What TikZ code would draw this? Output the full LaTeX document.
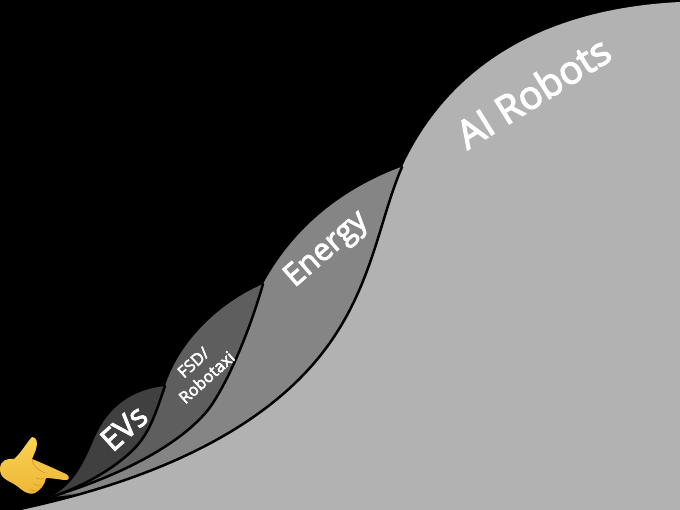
\documentclass[tikz,border=0pt]{standalone}
\usepackage{fontspec}
\setmainfont{Open Sans}
\newfontfamily\labfont[FakeBold=3]{Open Sans}
\definecolor{aigrey}{HTML}{B2B2B2}
\definecolor{engrey}{HTML}{858585}
\definecolor{fsdgrey}{HTML}{5E5E5E}
\definecolor{evgrey}{HTML}{404040}
\definecolor{handy}{HTML}{FAD352}
\definecolor{handm}{HTML}{EDB536}
\definecolor{handd}{HTML}{D99A2B}
\tikzset{
  lobeline/.style={draw=black,line width=2.5pt,line cap=round},
  lab/.style={text=white,inner sep=0pt,align=center},
  handline/.style={draw=handd,line width=.7pt,line cap=round}
}
\begin{document}
\begin{tikzpicture}[x=1pt,y=-1pt]
\useasboundingbox (0,0) rectangle (680,510);
\fill[black] (0,0) rectangle (680,510);
% EVs (back)
\fill[evgrey] (50,497) .. controls (75,485) and (85,460) .. (95,437)
  .. controls (108,408) and (130,390) .. (165,386)
  -- (200,420) -- (100,490) -- cycle;
% FSD
\fill[fsdgrey] (52,497) .. controls (85,485) and (112,470) .. (133,450)
  .. controls (150,433) and (156,412) .. (165,386)
  .. controls (178,345) and (215,305) .. (263,284)
  -- (300,350) -- (120,490) -- cycle;
% Energy
\fill[engrey] (60,494) .. controls (110,478) and (175,450) .. (208,410)
  .. controls (227,385) and (250,330) .. (263,284)
  .. controls (295,225) and (345,188) .. (401,167)
  -- (420,250) -- (200,490) -- cycle;
% AI Robots (front)
\fill[aigrey] (15,510) .. controls (110,490) and (240,450) .. (315,362)
  .. controls (372,295) and (378,222) .. (402,167)
  .. controls (440,85) and (520,10) .. (680,2) -- (680,510) -- cycle;
% Black lines
\draw[lobeline] (15,510) .. controls (110,490) and (240,450) .. (315,362)
  .. controls (372,295) and (378,222) .. (402,167);
\draw[lobeline] (60,494) .. controls (110,478) and (175,450) .. (208,410)
  .. controls (227,385) and (250,330) .. (263,284);
\draw[lobeline] (52,497) .. controls (85,485) and (112,470) .. (133,450)
  .. controls (150,433) and (156,412) .. (165,386);
% Hand
\shade[top color=handy,bottom color=handm] (32,437) .. controls (37,437) and (38,443) .. (36,449)
  .. controls (35,453) and (33,456) .. (32,459)
  .. controls (42,463) and (55,469) .. (66,474)
  .. controls (71,477) and (69,481) .. (64,480)
  .. controls (57,479) and (50,478) .. (46,478)
  .. controls (45,485) and (40,490) .. (35,493)
  .. controls (28,496) and (22,490) .. (17,486)
  .. controls (8,480) and (0,479) .. (0,469)
  .. controls (0,460) and (8,458) .. (14,459)
  .. controls (22,452) and (27,442) .. (32,437) -- cycle;
\draw[handline] (32,459) .. controls (33,465) and (36,469) .. (45,473);
\draw[handline] (44,478) .. controls (41,480) and (38,479) .. (36,478);
\draw[handline] (41,485) .. controls (38,486) and (36,485) .. (34,484);
\draw[handline] (36,491) .. controls (33,491) and (31,490) .. (30,489);
% Labels
\node[lab,font=\labfont\fontsize{39}{39}\selectfont,rotate=32] (airobots) at (533,92) {AI Robots};
\node[lab,font=\labfont\fontsize{31}{31}\selectfont,rotate=41] (energy) at (327,250) {Energy};
\node[lab,font=\labfont\fontsize{31}{31}\selectfont,rotate=42] (evs) at (124,428) {EVs};
\node[lab,font=\labfont\fontsize{16.5}{20}\selectfont,rotate=42] (fsd) at (200,370) {FSD/\\Robotaxi};
\end{tikzpicture}
\end{document}
